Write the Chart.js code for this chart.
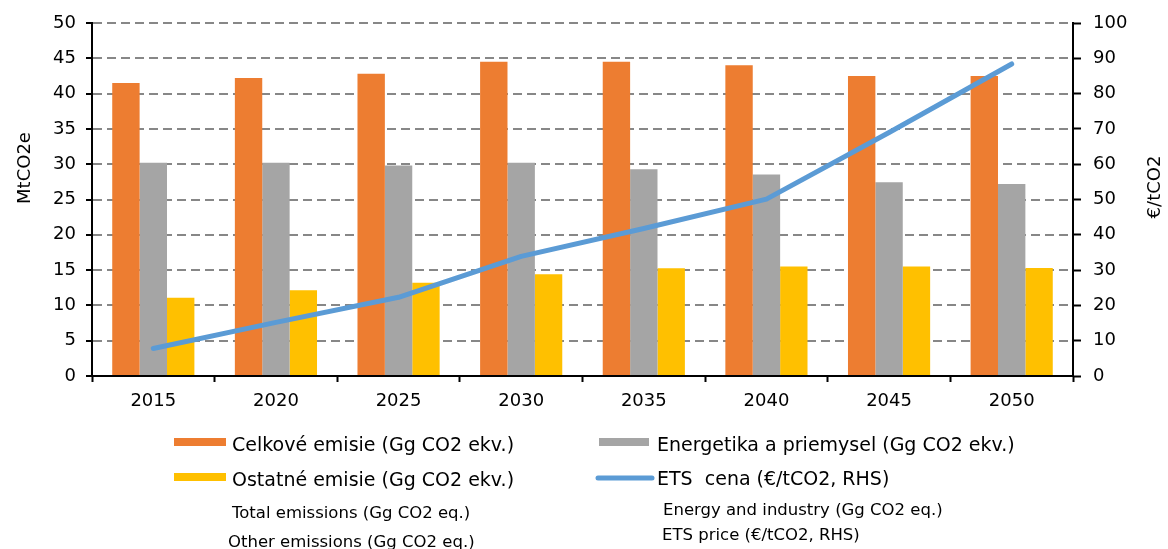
<!DOCTYPE html>
<html>
<head>
<meta charset="utf-8">
<script src="https://cdn.jsdelivr.net/npm/chart.js@4.4.0/dist/chart.umd.min.js"></script>
<style>
  body { margin: 0; background: #fff; }
  canvas { display: block; }
</style>
</head>
<body>
<canvas id="graf" width="1168" height="549"></canvas>
<script>
// hodnoty odcitane z grafu
var roky = ['2015', '2020', '2025', '2030', '2035', '2040', '2045', '2050'];
var celkove = [41.5, 42.2, 42.8, 44.5, 44.5, 44.0, 42.5, 42.5];
var energetika = [30.2, 30.2, 29.8, 30.2, 29.3, 28.55, 27.45, 27.2];
var ostatne = [11.1, 12.15, 13.2, 14.4, 15.25, 15.5, 15.5, 15.3];
var etsCena = [7.8, 15.2, 22.3, 33.9, 41.8, 50.1, 69.0, 88.4];

var nazvy = ['Celkové emisie (Gg CO2 ekv.)', 'Energetika a priemysel (Gg CO2 ekv.)',
	'Ostatné emisie (Gg CO2 ekv.)', 'ETS  cena (€/tCO2, RHS)'];
var preklady = ['Total emissions (Gg CO2 eq.)', 'Energy and industry (Gg CO2 eq.)',
	'Other emissions (Gg CO2 eq.)', 'ETS price (€/tCO2, RHS)'];

var farby = {
	orange: '#ED7D31',
	grey: '#A5A5A5',
	yellow: '#FFC000',
	blue: '#5B9BD5'
};

var pismo = 'DejaVu Sans';

// nazvy osi + legenda pod grafom
var popisky = {
	id: 'popisky',
	afterDraw: function(chart) {
		var ctx = chart.ctx;
		ctx.save();
		ctx.fillStyle = '#000';
		ctx.font = '18px "' + pismo + '"';
		ctx.textAlign = 'center';
		ctx.textBaseline = 'middle';
		ctx.translate(25, 168);
		ctx.rotate(-Math.PI / 2);
		ctx.fillText('MtCO2e', 0, 0);
		ctx.restore();

		ctx.save();
		ctx.fillStyle = '#000';
		ctx.font = '18px "' + pismo + '"';
		ctx.textAlign = 'center';
		ctx.textBaseline = 'middle';
		ctx.translate(1155, 187);
		ctx.rotate(-Math.PI / 2);
		ctx.fillText('€/tCO2', 0, 0);
		ctx.restore();

		ctx.save();
		ctx.fillStyle = farby.orange;
		ctx.fillRect(174, 438, 52, 8);
		ctx.fillStyle = farby.grey;
		ctx.fillRect(599, 438, 50, 8);
		ctx.fillStyle = farby.yellow;
		ctx.fillRect(174, 473, 52, 8);
		ctx.strokeStyle = farby.blue;
		ctx.lineWidth = 5;
		ctx.lineCap = 'round';
		ctx.beginPath();
		ctx.moveTo(598, 478);
		ctx.lineTo(652, 478);
		ctx.stroke();

		ctx.fillStyle = '#000';
		ctx.textAlign = 'left';
		ctx.textBaseline = 'alphabetic';
		ctx.font = '19px "' + pismo + '"';
		ctx.fillText(nazvy[0], 232, 451);
		ctx.fillText(nazvy[1], 657, 451);
		ctx.fillText(nazvy[2], 232, 486);
		ctx.fillText(nazvy[3], 657, 485);
		ctx.font = '16.5px "' + pismo + '"';
		ctx.fillText(preklady[0], 232, 518);
		ctx.fillText(preklady[1], 663, 515);
		ctx.fillText(preklady[2], 228, 547);
		ctx.fillText(preklady[3], 662, 540);
		ctx.restore();
	}
};

var tickFont = { family: pismo, size: 18 };

var graf = new Chart(document.getElementById('graf'), {
	type: 'bar',
	data: {
		labels: roky,
		datasets: [
			{ label: nazvy[0], data: celkove, backgroundColor: farby.orange, borderWidth: 0, yAxisID: 'y', order: 1 },
			{ label: nazvy[1], data: energetika, backgroundColor: farby.grey, borderWidth: 0, yAxisID: 'y', order: 1 },
			{ label: nazvy[2], data: ostatne, backgroundColor: farby.yellow, borderWidth: 0, yAxisID: 'y', order: 1 },
			{
				type: 'line', label: nazvy[3], data: etsCena, yAxisID: 'y1', order: 0,
				borderColor: farby.blue, backgroundColor: farby.blue, borderWidth: 5,
				pointRadius: 0, borderCapStyle: 'round', borderJoinStyle: 'round', tension: 0
			}
		]
	},
	options: {
		responsive: false,
		animation: false,
		devicePixelRatio: 1,
		layout: { padding: { left: 0, right: 0, top: 23, bottom: 0 } },
		categoryPercentage: 0.67,
		barPercentage: 1.0,
		plugins: {
			legend: { display: false },
			tooltip: { enabled: false }
		},
		scales: {
			x: {
				offset: true,
				grid: { offset: true, drawOnChartArea: false, drawTicks: true, tickLength: 6, tickColor: '#000', tickWidth: 2 },
				border: { color: '#000', width: 2 },
				ticks: { font: tickFont, color: '#000', padding: 9, maxRotation: 0 },
				afterFit: function(s) { s.height = 549 - 376; }
			},
			y: {
				position: 'left',
				min: 0, max: 50,
				ticks: { stepSize: 5, font: tickFont, color: '#000', padding: 10 },
				grid: {
					color: function(c) { return c.tick && c.tick.value === 0 ? 'rgba(0,0,0,0)' : '#878787'; },
					lineWidth: 2, tickColor: '#000', tickLength: 6, tickWidth: 2, tickBorderDash: []
				},
				border: { color: '#000', width: 2, dash: [9, 5] },
				afterFit: function(s) { s.width = 92; }
			},
			y1: {
				position: 'right',
				min: 0, max: 100,
				ticks: { stepSize: 10, font: tickFont, color: '#000', padding: 12 },
				grid: { drawOnChartArea: false, tickColor: '#000', tickLength: 8, tickWidth: 2 },
				border: { color: '#000', width: 2 },
				afterFit: function(s) { s.width = 1168 - 1073; }
			}
		}
	},
	plugins: [popisky]
});
</script>
</body>
</html>
